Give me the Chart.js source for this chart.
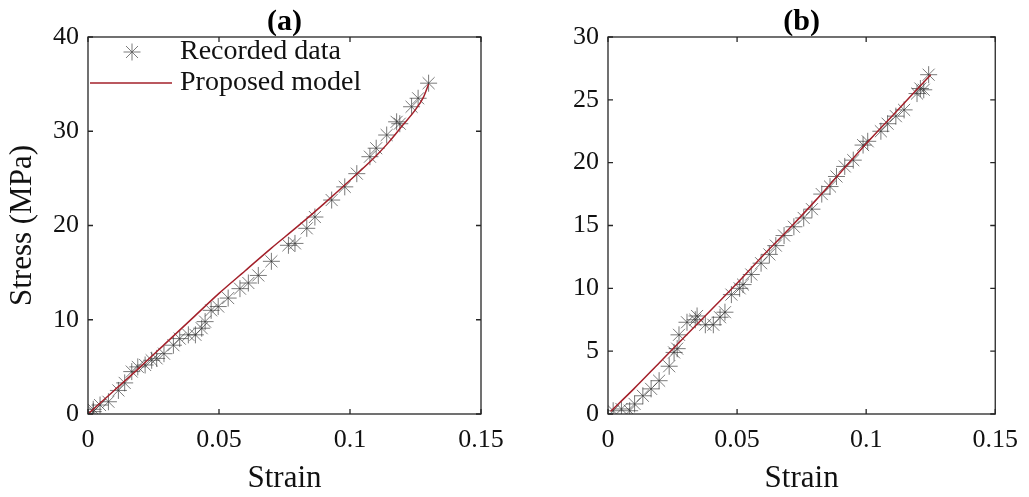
<!DOCTYPE html>
<html>
<head>
<meta charset="utf-8">
<script src="https://cdn.jsdelivr.net/npm/chart.js@4.4.0/dist/chart.umd.min.js"></script>
<style>
  html, body { margin: 0; padding: 0; background: #fff; }
  #wrap { position: relative; width: 1029px; height: 497px; }
  .panel { position: absolute; top: 0; height: 497px; }
  #panelA { left: 0; width: 515px; }
  #panelB { left: 515px; width: 514px; }
</style>
</head>
<body>
<div id="wrap">
  <div class="panel" id="panelA"><canvas id="chartA"></canvas></div>
  <div class="panel" id="panelB"><canvas id="chartB"></canvas></div>
</div>
<script>
'use strict';

var strainTicks = [0, 0.05, 0.1, 0.15];
var stressTicksA = [0, 10, 20, 30, 40];
var stressTicksB = [0, 5, 10, 15, 20, 25, 30];

// specimen (a)
var recStrainA = [0.002, 0.002, 0.0046, 0.0078, 0.0116, 0.014, 0.0167, 0.019, 0.0218, 0.0243,
  0.0262, 0.029, 0.0326, 0.035, 0.0383, 0.041, 0.0434, 0.0447, 0.047, 0.0497,
  0.0535, 0.058, 0.0612, 0.065, 0.070, 0.0765, 0.079, 0.0835, 0.0866, 0.093,
  0.098, 0.1026, 0.1076, 0.110, 0.114, 0.1178, 0.119, 0.1235, 0.126, 0.130];
var recStressA = [0.25, 0.5, 0.95, 1.3, 2.5, 3.3, 4.5, 5.0, 5.2, 5.7,
  5.9, 6.4, 7.3, 8.0, 8.4, 8.4, 9.1, 9.8, 11.0, 11.4,
  12.3, 13.3, 13.9, 14.7, 16.2, 17.9, 18.1, 19.7, 20.9, 22.7,
  24.1, 25.5, 27.3, 28.2, 29.6, 31.0, 30.8, 32.6, 33.5, 35.1];
var modelStrainA = [0, 0.01, 0.02, 0.03, 0.04, 0.05, 0.06, 0.07, 0.08, 0.09,
  0.1, 0.11, 0.115, 0.12, 0.125, 0.128, 0.13];
var modelStressA = [0, 2.5, 5.0, 7.6, 10.2, 12.8, 15.2, 17.6, 19.9, 22.3,
  24.8, 27.4, 28.9, 30.6, 32.3, 33.6, 35.0];

// specimen (b)
var recStrainB = [0.002, 0.0052, 0.0084, 0.0103, 0.0135, 0.0167, 0.0198, 0.0237, 0.0256, 0.0268,
  0.0275, 0.0306, 0.0338, 0.0345, 0.0377, 0.0408, 0.0434, 0.0453, 0.0478, 0.051,
  0.0523, 0.0555, 0.0593, 0.0625, 0.065, 0.0682, 0.072, 0.0758, 0.079, 0.0828,
  0.086, 0.0885, 0.0917, 0.095, 0.0988, 0.1006, 0.1057, 0.1083, 0.1115, 0.1147,
  0.1197, 0.121, 0.1223, 0.1242];
var recStressB = [0.26, 0.4, 0.26, 0.8, 1.45, 2.0, 2.65, 3.8, 4.9, 5.2,
  6.3, 7.3, 7.5, 7.8, 7.1, 7.1, 7.7, 8.1, 9.5, 10.0,
  10.3, 11.1, 12.0, 12.7, 13.4, 14.2, 14.9, 15.6, 16.3, 17.5,
  18.1, 18.9, 19.7, 20.2, 21.4, 21.7, 22.5, 23.1, 23.7, 24.2,
  25.5, 25.9, 25.8, 27.0];
var modelStrainB = [0.001, 0.01, 0.02, 0.03, 0.04, 0.05, 0.06, 0.07, 0.08, 0.09,
  0.1, 0.11, 0.12, 0.125];
var modelStressB = [0.2, 2.0, 4.1, 6.2, 8.3, 10.4, 12.6, 14.7, 16.9, 19.2,
  21.5, 23.7, 25.9, 27.0];

var FONT = "'Liberation Serif', 'Times New Roman', serif";
var MARK_COLOR = 'rgba(50, 50, 50, 0.65)';
var LINE_COLOR = '#a3202a';

function toPoints(xs, ys) {
  return xs.map(function(x, i) { return { x: x, y: ys[i] }; });
}

function fmtTick(v) {
  return String(parseFloat(v.toFixed(3)));
}

// frame round the plot with the ticks pointing inwards on every side
var boxPlugin = {
  id: 'boxFrame',
  afterDraw: function(chart) {
    var a = chart.chartArea;
    var ctx = chart.ctx;
    var xs = chart.scales.x;
    var ys = chart.scales.y;
    var len = 5;
    ctx.save();
    ctx.strokeStyle = '#262626';
    ctx.lineWidth = 1.3;
    ctx.strokeRect(a.left, a.top, a.right - a.left, a.bottom - a.top);
    ctx.beginPath();
    xs.ticks.forEach(function(t) {
      var px = xs.getPixelForValue(t.value);
      ctx.moveTo(px, a.bottom); ctx.lineTo(px, a.bottom - len);
      ctx.moveTo(px, a.top); ctx.lineTo(px, a.top + len);
    });
    ys.ticks.forEach(function(t) {
      var py = ys.getPixelForValue(t.value);
      ctx.moveTo(a.left, py); ctx.lineTo(a.left + len, py);
      ctx.moveTo(a.right, py); ctx.lineTo(a.right - len, py);
    });
    ctx.stroke();
    ctx.restore();
  }
};

// legend sits inside the plot, top left corner
var insideLegend = {
  id: 'insideLegend',
  afterDraw: function(chart) {
    var a = chart.chartArea;
    var ctx = chart.ctx;
    var rowY1 = a.top + 15;
    var rowY2 = a.top + 46;
    ctx.save();
    ctx.strokeStyle = 'rgba(90, 90, 90, 0.8)';
    ctx.lineWidth = 1;
    Chart.helpers.drawPoint(ctx, {
      pointStyle: 'star', radius: 8.5, borderWidth: 1
    }, a.left + 44, rowY1);
    ctx.beginPath();
    ctx.strokeStyle = LINE_COLOR;
    ctx.lineWidth = 1.5;
    ctx.moveTo(a.left + 2, rowY2);
    ctx.lineTo(a.left + 84, rowY2);
    ctx.stroke();
    ctx.fillStyle = '#111';
    ctx.font = '28px ' + FONT;
    ctx.textBaseline = 'middle';
    ctx.fillText('Recorded data', a.left + 92, rowY1);
    ctx.fillText('Proposed model', a.left + 92, rowY2);
    ctx.restore();
  }
};

function makeChart(id, title, recX, recY, modX, modY, yTicks, yLabel, yWidth, rightPad, extra) {
  var plugins = [boxPlugin];
  if (extra) plugins.push(extra);
  return new Chart(document.getElementById(id), {
    type: 'scatter',
    data: {
      datasets: [{
        type: 'line',
        label: 'Proposed model',
        data: toPoints(modX, modY),
        borderColor: LINE_COLOR,
        borderWidth: 1.5,
        pointRadius: 0,
        cubicInterpolationMode: 'monotone',
        fill: false,
        order: 0
      }, {
        label: 'Recorded data',
        data: toPoints(recX, recY),
        pointStyle: 'star',
        pointRadius: 8.5,
        pointBorderWidth: 1,
        pointBorderColor: MARK_COLOR,
        pointBackgroundColor: MARK_COLOR,
        order: 1
      }]
    },
    options: {
      responsive: true,
      maintainAspectRatio: false,
      animation: false,
      layout: { padding: { left: 0, right: rightPad, top: 0, bottom: 0 } },
      plugins: {
        legend: { display: false },
        tooltip: { enabled: false },
        title: {
          display: true,
          text: title,
          fullSize: false,
          color: '#000',
          font: { family: FONT, size: 30, weight: 'bold', lineHeight: 1.0 },
          padding: { top: 7, bottom: 0 }
        }
      },
      scales: {
        x: {
          type: 'linear',
          min: strainTicks[0],
          max: strainTicks[strainTicks.length - 1],
          afterBuildTicks: function(s) {
            s.ticks = strainTicks.map(function(v) { return { value: v }; });
          },
          afterFit: function(s) { s.height = 83; },
          grid: { display: false, drawTicks: false },
          border: { display: false },
          ticks: {
            color: '#111',
            padding: 11,
            maxRotation: 0,
            font: { family: FONT, size: 26 },
            callback: fmtTick
          },
          title: {
            display: true,
            text: 'Strain',
            color: '#111',
            font: { family: FONT, size: 31 },
            padding: { top: 0, bottom: 0 }
          }
        },
        y: {
          type: 'linear',
          min: yTicks[0],
          max: yTicks[yTicks.length - 1],
          afterBuildTicks: function(s) {
            s.ticks = yTicks.map(function(v) { return { value: v }; });
          },
          afterFit: function(s) { s.width = yWidth; },
          grid: { display: false, drawTicks: false },
          border: { display: false },
          ticks: {
            color: '#111',
            padding: 9,
            font: { family: FONT, size: 26 },
            callback: fmtTick
          },
          title: {
            display: !!yLabel,
            text: yLabel,
            color: '#111',
            font: { family: FONT, size: 31 },
            padding: { top: 4, bottom: 0 }
          }
        }
      }
    },
    plugins: plugins
  });
}

makeChart('chartA', '(a)', recStrainA, recStressA, modelStrainA, modelStressA,
  stressTicksA, 'Stress (MPa)', 88, 34, insideLegend);
makeChart('chartB', '(b)', recStrainB, recStressB, modelStrainB, modelStressB,
  stressTicksB, '', 93, 28, null);
</script>
</body>
</html>
